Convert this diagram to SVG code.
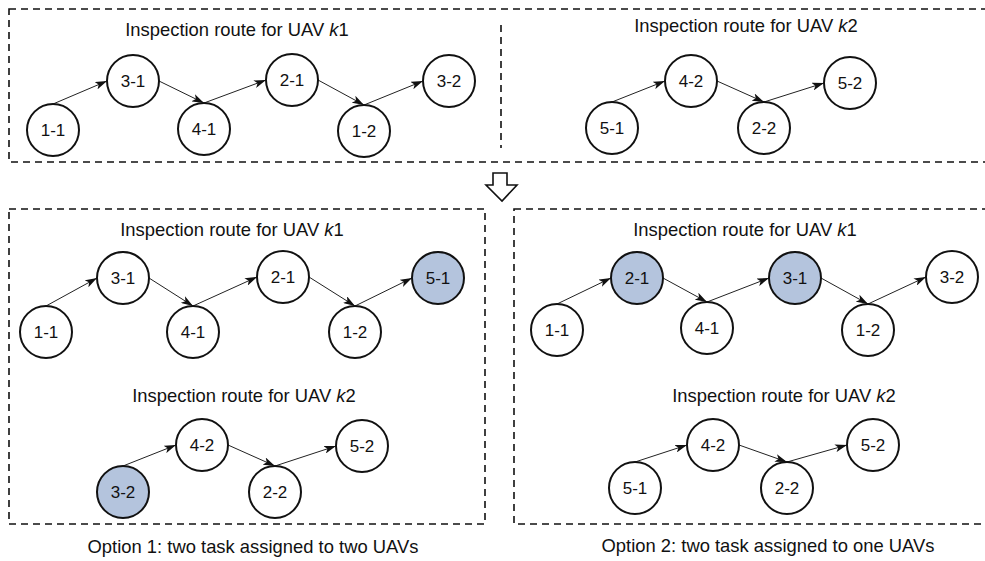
<svg xmlns="http://www.w3.org/2000/svg" width="985" height="561" viewBox="0 0 985 561">
  <style>
    .frame { fill: none; stroke: #111; stroke-width: 1.6; stroke-dasharray: 7 5; }
    .node circle { fill: #fff; stroke: #111; stroke-width: 2; }
    .node.hl circle { fill: #b4c4dd; }
    .node text { font-family: "Liberation Sans", Arial, sans-serif; font-size: 17px; fill: #111; text-anchor: middle; }
    .title { font-family: "Liberation Sans", Arial, sans-serif; font-size: 18.4px; fill: #111; text-anchor: middle; }
    .edge { stroke: #222; stroke-width: 1; fill: none; marker-end: url(#tip); }
  </style>
  <defs>
    <marker id="tip" markerUnits="userSpaceOnUse" viewBox="0 0 12 8" markerWidth="12" markerHeight="8" refX="12" refY="4" orient="auto">
      <path d="M0,0 L12,4 L0,8 L3,4 Z" fill="#111"/>
    </marker>
  </defs>
  <rect width="985" height="561" fill="#fff"/>

  <!-- dashed frames -->
  <g id="frames">
    <rect class="frame" x="9" y="9" width="990" height="153"/>
    <line class="frame" x1="501" y1="25" x2="501" y2="148"/>
    <rect class="frame" x="9" y="209" width="476" height="315"/>
    <rect class="frame" x="514" y="209" width="490" height="315"/>
  </g>

  <!-- hollow down arrow between panels -->
  <polygon id="transition" points="493,173 507,173 507,185 517,185 502,201 486,185 493,185" fill="#fff" stroke="#111" stroke-width="1.6" stroke-linejoin="miter"/>

  <!-- titles -->
  <g id="titles">
    <text class="title" x="237" y="36">Inspection route for UAV <tspan font-style="italic">k</tspan>1</text>
    <text class="title" x="746" y="32">Inspection route for UAV <tspan font-style="italic">k</tspan>2</text>
    <text class="title" x="232" y="236">Inspection route for UAV <tspan font-style="italic">k</tspan>1</text>
    <text class="title" x="244" y="402">Inspection route for UAV <tspan font-style="italic">k</tspan>2</text>
    <text class="title" x="745" y="236">Inspection route for UAV <tspan font-style="italic">k</tspan>1</text>
    <text class="title" x="784" y="402">Inspection route for UAV <tspan font-style="italic">k</tspan>2</text>
    <text class="title" x="253" y="553">Option 1: two task assigned to two UAVs</text>
    <text class="title" x="768" y="552">Option 2: two task assigned to one UAVs</text>
  </g>

  <!-- connectors -->
  <g id="connectors">
    <line class="edge" x1="53" y1="104" x2="107" y2="81"/>
    <line class="edge" x1="159" y1="81" x2="204" y2="103"/>
    <line class="edge" x1="204" y1="103" x2="266" y2="80"/>
    <line class="edge" x1="318" y1="80" x2="364" y2="105"/>
    <line class="edge" x1="364" y1="105" x2="423" y2="81"/>

    <line class="edge" x1="612" y1="102" x2="665" y2="81"/>
    <line class="edge" x1="717" y1="81" x2="764" y2="102"/>
    <line class="edge" x1="764" y1="102" x2="824" y2="83"/>

    <line class="edge" x1="46" y1="306" x2="97" y2="278"/>
    <line class="edge" x1="149" y1="278" x2="193" y2="306"/>
    <line class="edge" x1="193" y1="306" x2="257" y2="277"/>
    <line class="edge" x1="309" y1="277" x2="355" y2="306"/>
    <line class="edge" x1="355" y1="306" x2="412" y2="278"/>

    <line class="edge" x1="123" y1="466" x2="176" y2="445"/>
    <line class="edge" x1="228" y1="445" x2="275" y2="466"/>
    <line class="edge" x1="275" y1="466" x2="336" y2="446"/>

    <line class="edge" x1="557" y1="304" x2="611" y2="278"/>
    <line class="edge" x1="663" y1="278" x2="707" y2="302"/>
    <line class="edge" x1="707" y1="302" x2="769" y2="278"/>
    <line class="edge" x1="821" y1="278" x2="868" y2="304"/>
    <line class="edge" x1="868" y1="304" x2="926" y2="277"/>

    <line class="edge" x1="635" y1="462" x2="687" y2="445"/>
    <line class="edge" x1="739" y1="445" x2="787" y2="462"/>
    <line class="edge" x1="787" y1="462" x2="847" y2="445"/>
  </g>

  <!-- initial plan, UAV k1 -->
  <g id="a-k1-1-1" class="node"><circle cx="53" cy="130" r="26"/><text x="53" y="136">1-1</text></g>
  <g id="a-k1-3-1" class="node"><circle cx="133" cy="81" r="26"/><text x="133" y="87">3-1</text></g>
  <g id="a-k1-4-1" class="node"><circle cx="204" cy="129" r="26"/><text x="204" y="135">4-1</text></g>
  <g id="a-k1-2-1" class="node"><circle cx="292" cy="80" r="26"/><text x="292" y="86">2-1</text></g>
  <g id="a-k1-1-2" class="node"><circle cx="364" cy="131" r="26"/><text x="364" y="137">1-2</text></g>
  <g id="a-k1-3-2" class="node"><circle cx="449" cy="81" r="26"/><text x="449" y="87">3-2</text></g>

  <!-- initial plan, UAV k2 -->
  <g id="a-k2-5-1" class="node"><circle cx="612" cy="128" r="26"/><text x="612" y="134">5-1</text></g>
  <g id="a-k2-4-2" class="node"><circle cx="691" cy="81" r="26"/><text x="691" y="87">4-2</text></g>
  <g id="a-k2-2-2" class="node"><circle cx="764" cy="128" r="26"/><text x="764" y="134">2-2</text></g>
  <g id="a-k2-5-2" class="node"><circle cx="850" cy="83" r="26"/><text x="850" y="89">5-2</text></g>

  <!-- option 1, UAV k1 -->
  <g id="b-k1-1-1" class="node"><circle cx="46" cy="332" r="26"/><text x="46" y="338">1-1</text></g>
  <g id="b-k1-3-1" class="node"><circle cx="123" cy="278" r="26"/><text x="123" y="284">3-1</text></g>
  <g id="b-k1-4-1" class="node"><circle cx="193" cy="332" r="26"/><text x="193" y="338">4-1</text></g>
  <g id="b-k1-2-1" class="node"><circle cx="283" cy="277" r="26"/><text x="283" y="283">2-1</text></g>
  <g id="b-k1-1-2" class="node"><circle cx="355" cy="332" r="26"/><text x="355" y="338">1-2</text></g>
  <g id="b-k1-5-1" class="node hl"><circle cx="438" cy="278" r="26"/><text x="438" y="284">5-1</text></g>

  <!-- option 1, UAV k2 -->
  <g id="b-k2-3-2" class="node hl"><circle cx="123" cy="492" r="26"/><text x="123" y="498">3-2</text></g>
  <g id="b-k2-4-2" class="node"><circle cx="202" cy="445" r="26"/><text x="202" y="451">4-2</text></g>
  <g id="b-k2-2-2" class="node"><circle cx="275" cy="492" r="26"/><text x="275" y="498">2-2</text></g>
  <g id="b-k2-5-2" class="node"><circle cx="362" cy="446" r="26"/><text x="362" y="452">5-2</text></g>

  <!-- option 2, UAV k1 -->
  <g id="c-k1-1-1" class="node"><circle cx="557" cy="330" r="26"/><text x="557" y="336">1-1</text></g>
  <g id="c-k1-2-1" class="node hl"><circle cx="637" cy="278" r="26"/><text x="637" y="284">2-1</text></g>
  <g id="c-k1-4-1" class="node"><circle cx="707" cy="328" r="26"/><text x="707" y="334">4-1</text></g>
  <g id="c-k1-3-1" class="node hl"><circle cx="795" cy="278" r="26"/><text x="795" y="284">3-1</text></g>
  <g id="c-k1-1-2" class="node"><circle cx="868" cy="330" r="26"/><text x="868" y="336">1-2</text></g>
  <g id="c-k1-3-2" class="node"><circle cx="952" cy="277" r="26"/><text x="952" y="283">3-2</text></g>

  <!-- option 2, UAV k2 -->
  <g id="c-k2-5-1" class="node"><circle cx="635" cy="488" r="26"/><text x="635" y="494">5-1</text></g>
  <g id="c-k2-4-2" class="node"><circle cx="713" cy="445" r="26"/><text x="713" y="451">4-2</text></g>
  <g id="c-k2-2-2" class="node"><circle cx="787" cy="488" r="26"/><text x="787" y="494">2-2</text></g>
  <g id="c-k2-5-2" class="node"><circle cx="873" cy="445" r="26"/><text x="873" y="451">5-2</text></g>
</svg>
